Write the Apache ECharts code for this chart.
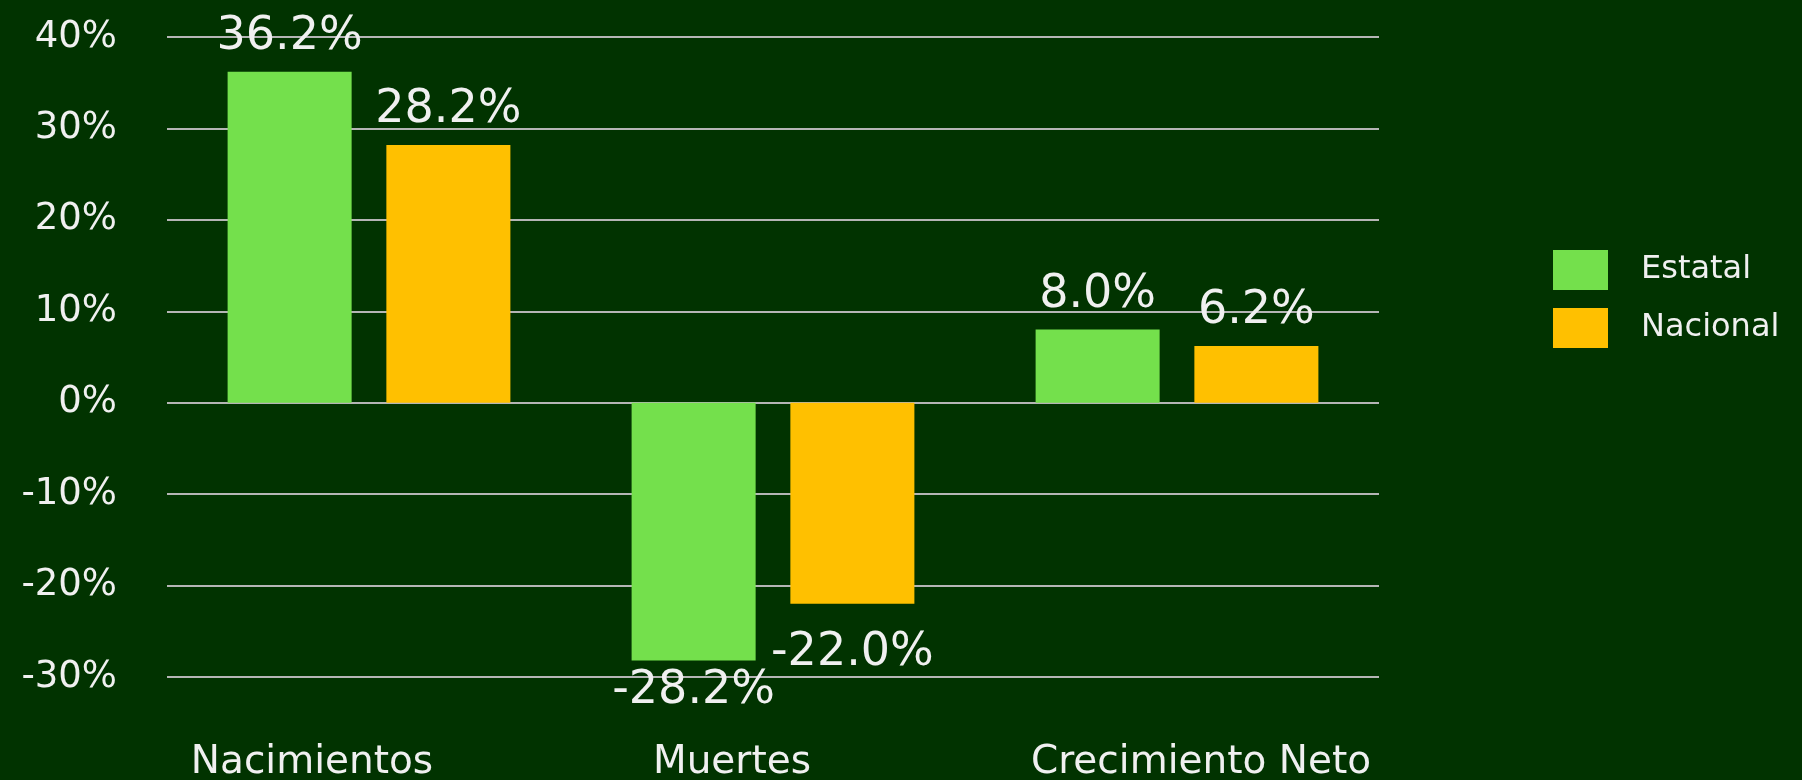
<!DOCTYPE html>
<html>
<head>
<meta charset="utf-8">
<script src="https://cdn.jsdelivr.net/npm/echarts@6/dist/echarts.min.js"></script>
<style>
    html, body { margin: 0; padding: 0; background: #013300; }
    #chart { width: 1802px; height: 780px; }
</style>
</head>
<body>
<div id="chart"></div>
<script>
// datos - inicio
var categorias = ['Nacimientos', 'Muertes', 'Crecimiento Neto'];
var nombres_series = ['Estatal', 'Nacional'];
var estatal = [36.2, -28.2, 8.0];
var nacional = [28.2, -22.0, 6.2];
var y_min = -30, y_max = 40, y_paso = 10;
// datos - fin

var fuente = 'DejaVu Sans';
var blanco = '#F0F0F0';
var relleno_categorias = [[0, 114, 0, 0], [0, 82, 0, 0], [0, 0, 0, 48]];  // desplazamiento de etiquetas del eje X

function etiqueta(params) {     // formato 36.2%
    return params.value.toFixed(1) + '%';
}

function serie(nombre, valores, color, dist_neg) {
    return {
        name: nombre,
        type: 'bar',
        // valores negativos: etiqueta debajo de la barra
        data: valores.map(function (v) {
            return v < 0 ? { value: v, label: { position: 'bottom', distance: dist_neg } } : v;
        }),
        barWidth: '30.7%',
        barGap: '28%',
        itemStyle: { color: color },
        label: {
            show: true,
            position: 'top',
            distance: 12,
            formatter: etiqueta,
            color: blanco,
            fontFamily: fuente,
            fontSize: 46
        }
    };
}

var chart = echarts.init(document.getElementById('chart'));

var option = {
    backgroundColor: '#013300',
    animation: false,
    grid: {
        left: 167,
        right: 423,
        top: 37,
        bottom: 103,
        outerBoundsMode: 'none'
    },
    legend: {
        orient: 'vertical',
        left: 1548,
        top: 245,
        itemWidth: 55,
        itemHeight: 40,
        itemGap: 18,
        icon: 'rect',
        data: nombres_series,
        textStyle: {
            color: blanco,
            fontFamily: fuente,
            fontSize: 32,
            padding: [0, 0, 0, 28]
        }
    },
    xAxis: {
        type: 'category',
        data: categorias.map(function (c, i) {
            return { value: c, textStyle: { padding: relleno_categorias[i] } };
        }),
        axisLine: { show: false, onZero: false },
        axisTick: { show: false },
        axisLabel: {
            interval: 0,
            color: blanco,
            fontFamily: fuente,
            fontSize: 39,
            margin: 66
        }
    },
    yAxis: {
        type: 'value',
        min: y_min,
        max: y_max,
        interval: y_paso,
        axisLine: { show: false },
        axisTick: { show: false },
        axisLabel: {
            color: blanco,
            fontFamily: fuente,
            fontSize: 37,
            margin: 50,
            formatter: '{value}%'
        },
        splitLine: {
            lineStyle: { color: '#B5B5B5', width: 2 }
        }
    },
    series: [
        serie(nombres_series[0], estatal, '#74E04C', 8),
        serie(nombres_series[1], nacional, '#FFC000', 26)
    ]
};
chart.setOption(option);
</script>
</body>
</html>
